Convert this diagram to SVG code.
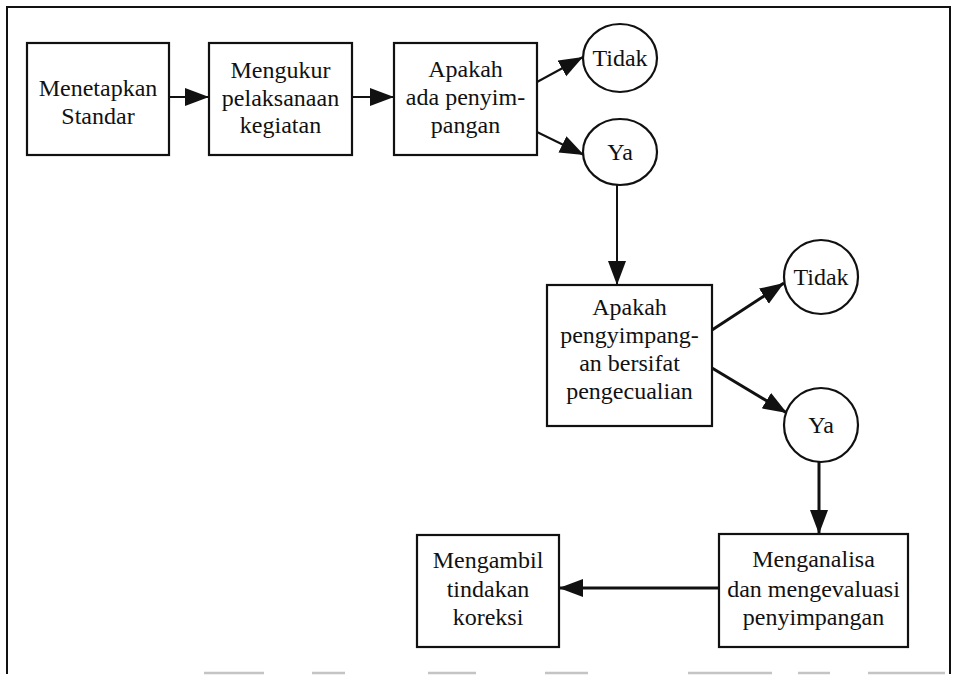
<svg xmlns="http://www.w3.org/2000/svg" width="954" height="675" viewBox="0 0 954 675">
<style>
.box{fill:#fff;stroke:#111;stroke-width:2.2}
.circ{fill:#fff;stroke:#111;stroke-width:2.2}
.t{font-family:"Liberation Serif","Times New Roman",serif;font-size:24px;fill:#111;text-anchor:middle}
.c1{fill:none;stroke:#111;stroke-width:2}
.c2{fill:none;stroke:#111;stroke-width:3}
.frame{fill:none;stroke:#111;stroke-width:2}
.fb{stroke:#c4c4c4;stroke-width:2.5}
</style>
<defs>
<marker id="ah" markerUnits="userSpaceOnUse" markerWidth="26" markerHeight="20" refX="24" refY="9" orient="auto" viewBox="0 0 26 20">
<path d="M0,0 L24,9 L0,18 Z" fill="#111"/>
</marker>
</defs>
<rect width="954" height="675" fill="#fff"/>
<g id="frame">
<path class="frame" d="M7,674 L7,7 L950,7 L950,674"/>
<g class="fb">
<line x1="204" y1="673" x2="264" y2="673"/>
<line x1="312" y1="673" x2="345" y2="673"/>
<line x1="428" y1="673" x2="476" y2="673"/>
<line x1="545" y1="673" x2="588" y2="673"/>
<line x1="688" y1="673" x2="772" y2="673"/>
<line x1="798" y1="673" x2="830" y2="673"/>
<line x1="868" y1="673" x2="945" y2="673"/>
</g>
</g>
<g id="connectors">
<line class="c1" x1="169" y1="97" x2="209" y2="97" marker-end="url(#ah)"/>
<line class="c1" x1="352" y1="97" x2="394" y2="97" marker-end="url(#ah)"/>
<line class="c1" x1="537" y1="82" x2="583" y2="57" marker-end="url(#ah)"/>
<line class="c1" x1="537" y1="132" x2="584" y2="155" marker-end="url(#ah)"/>
<line class="c1" x1="617" y1="185" x2="617" y2="285" marker-end="url(#ah)"/>
<line class="c2" x1="712" y1="330" x2="784" y2="283" marker-end="url(#ah)"/>
<line class="c2" x1="712" y1="368" x2="787" y2="413" marker-end="url(#ah)"/>
<line class="c2" x1="819" y1="462" x2="819" y2="534" marker-end="url(#ah)"/>
<line class="c2" x1="719" y1="588" x2="559" y2="588" marker-end="url(#ah)"/>
</g>
<g id="n1">
<rect class="box" x="27" y="43" width="142" height="112"/>
<text class="t" x="98" y="96">Menetapkan</text>
<text class="t" x="98" y="124">Standar</text>
</g>
<g id="n2">
<rect class="box" x="209" y="43" width="143" height="112"/>
<text class="t" x="280.5" y="78">Mengukur</text>
<text class="t" x="280.5" y="106">pelaksanaan</text>
<text class="t" x="280.5" y="133">kegiatan</text>
</g>
<g id="n3">
<rect class="box" x="394" y="43" width="143" height="112"/>
<text class="t" x="465.5" y="77">Apakah</text>
<text class="t" x="465.5" y="105">ada penyim-</text>
<text class="t" x="465.5" y="133">pangan</text>
</g>
<g id="n4">
<ellipse class="circ" cx="620" cy="58" rx="37" ry="34"/>
<text class="t" x="620" y="66">Tidak</text>
</g>
<g id="n5">
<ellipse class="circ" cx="620" cy="152" rx="37" ry="33"/>
<text class="t" x="620" y="160">Ya</text>
</g>
<g id="n6">
<rect class="box" x="547" y="285" width="165" height="141"/>
<text class="t" x="629.5" y="315">Apakah</text>
<text class="t" x="629.5" y="343">pengyimpang-</text>
<text class="t" x="629.5" y="371">an bersifat</text>
<text class="t" x="629.5" y="399">pengecualian</text>
</g>
<g id="n7">
<circle class="circ" cx="821" cy="277" r="37"/>
<text class="t" x="821" y="285">Tidak</text>
</g>
<g id="n8">
<circle class="circ" cx="821" cy="425" r="37"/>
<text class="t" x="821" y="433">Ya</text>
</g>
<g id="n9">
<rect class="box" x="719" y="534" width="189" height="113"/>
<text class="t" x="813.5" y="567">Menganalisa</text>
<text class="t" x="813.5" y="597">dan mengevaluasi</text>
<text class="t" x="813.5" y="625">penyimpangan</text>
</g>
<g id="n10">
<rect class="box" x="417" y="535" width="142" height="112"/>
<text class="t" x="488" y="568">Mengambil</text>
<text class="t" x="488" y="597">tindakan</text>
<text class="t" x="488" y="625">koreksi</text>
</g>
</svg>
